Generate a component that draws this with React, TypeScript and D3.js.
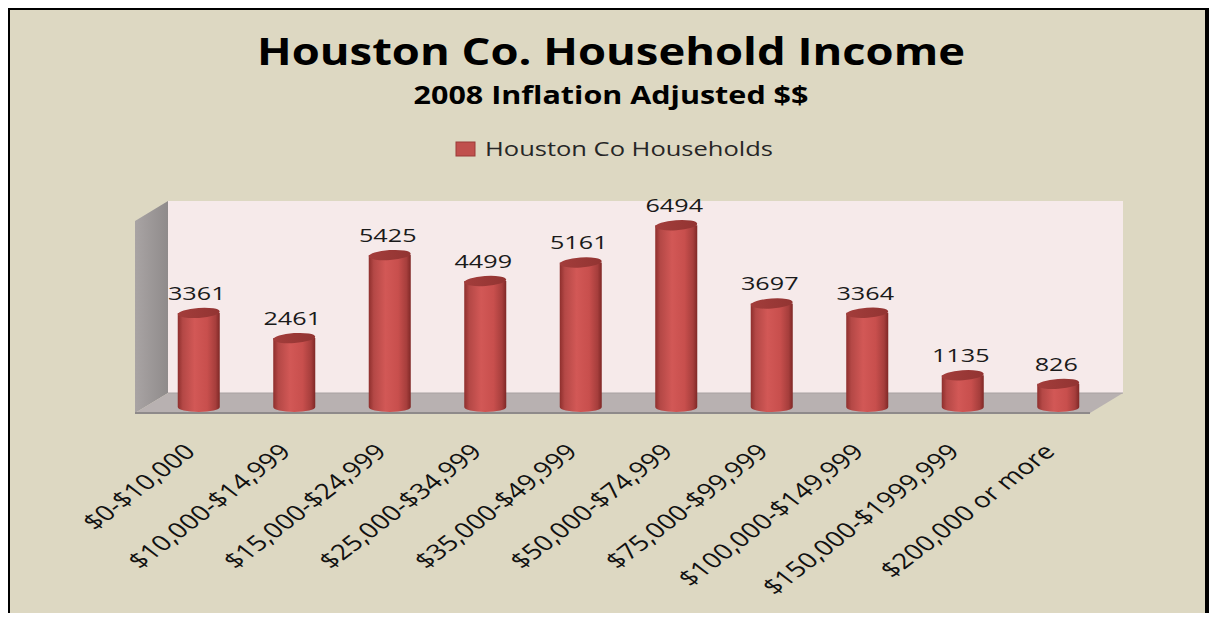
import React from "react";
import * as d3 from "d3";

const categories = [
  "$0-$10,000",
  "$10,000-$14,999",
  "$15,000-$24,999",
  "$25,000-$34,999",
  "$35,000-$49,999",
  "$50,000-$74,999",
  "$75,000-$99,999",
  "$100,000-$149,999",
  "$150,000-$1999,999",
  "$200,000 or more",
];
const households = [3361, 2461, 5425, 4499, 5161, 6494, 3697, 3364, 1135, 826];
const seriesName = "Houston Co Households";
const title = "Houston Co. Household Income";
const subtitle = "2008 Inflation Adjusted $$";

const W = 1217;
const H = 621;
const FONT = "'Open Sans', 'Noto Sans', sans-serif";
const STRETCH = 1.3;

export default function App() {
  const x = d3.scaleBand<string>().domain(categories).range([151, 1106]).paddingInner(0.56).paddingOuter(0.28);
  const y = d3.scaleLinear().domain([0, 7000]).range([407, 211]);
  const bw = x.bandwidth();
  const rx = bw / 2;
  const ry = 5;

  const wallLeft = 168, wallRight = 1123, wallTop = 201, floorBack = 393;
  const dx = -33, dy = 20;

  return (
    <div style={{ margin: -8 }}>
      <svg width={W} height={H} style={{ display: "block" }}>
        <defs>
          <linearGradient id="barGrad" x1="0" x2="1" y1="0" y2="0">
            <stop offset="0" stopColor="#8e2f2d" />
            <stop offset="0.12" stopColor="#b44846" />
            <stop offset="0.4" stopColor="#d25856" />
            <stop offset="0.7" stopColor="#c84f4d" />
            <stop offset="0.9" stopColor="#a63e3c" />
            <stop offset="1" stopColor="#7f2826" />
          </linearGradient>
          <linearGradient id="topGrad" x1="0" x2="1" y1="0" y2="0">
            <stop offset="0" stopColor="#a33d3b" />
            <stop offset="1" stopColor="#923432" />
          </linearGradient>
          <linearGradient id="sideGrad" x1="0" x2="1" y1="0" y2="0">
            <stop offset="0" stopColor="#a9a4a4" />
            <stop offset="1" stopColor="#8f8b8b" />
          </linearGradient>
        </defs>
        <rect x={0} y={0} width={W} height={H} fill="#ffffff" />
        <rect x={7} y={7} width={1201} height={H} fill="#ddd8c2" stroke="#000" strokeWidth={6} />

        <text x={611} y={65} textAnchor="middle" fontFamily={FONT} fontWeight={700} fontSize={37} fill="#000" textLength={708} lengthAdjust="spacingAndGlyphs">{title}</text>
        <text x={611} y={104} textAnchor="middle" fontFamily={FONT} fontWeight={700} fontSize={25} fill="#000" textLength={395} lengthAdjust="spacingAndGlyphs">{subtitle}</text>

        <rect x={456} y={142} width={19} height={14} fill="#c0504d" stroke="#9b3a38" strokeWidth={1} />
        <text x={485} y={156} fontFamily={FONT} fontSize={19.5} fill="#262626" textLength={288} lengthAdjust="spacingAndGlyphs">{seriesName}</text>

        <rect x={wallLeft} y={wallTop} width={wallRight - wallLeft} height={floorBack - wallTop} fill="#f6eaea" />
        <path d={`M${wallLeft},${wallTop} L${wallLeft + dx},${wallTop + dy} L${wallLeft + dx},${floorBack + dy} L${wallLeft},${floorBack} Z`} fill="url(#sideGrad)" />
        <path d={`M${wallLeft},${floorBack} L${wallRight},${floorBack} L${wallRight + dx},${floorBack + dy} L${wallLeft + dx},${floorBack + dy} Z`} fill="#b8b1b1" />
        <line x1={wallLeft + dx} x2={wallRight + dx} y1={floorBack + dy} y2={floorBack + dy} stroke="#8e8a8a" strokeWidth={2} />
        <line x1={wallLeft} x2={wallRight} y1={floorBack} y2={floorBack} stroke="#a8a2a2" strokeWidth={1} />

        {categories.map((c, i) => {
          const cx = (x(c) as number) + bw / 2;
          const top = y(households[i]);
          const base = y(0);
          const left = cx - rx;
          const right = cx + rx;
          const body = `M${left},${top} L${left},${base} A${rx},${ry} 0 0 0 ${right},${base} L${right},${top} Z`;
          return (
            <g key={c}>
              <path d={body} fill="url(#barGrad)" />
              <ellipse cx={cx} cy={top} rx={rx} ry={ry} fill="url(#topGrad)" transform={`rotate(-4 ${cx} ${top})`} />
              <text transform={`translate(${cx - 2},${top - 13}) scale(1.4,1)`} textAnchor="middle" fontFamily={FONT} fontSize={18} fill="#1a1a1a">{households[i]}</text>
            </g>
          );
        })}

        {categories.map((c) => {
          const cx = (x(c) as number) + bw / 2;
          return (
            <text key={c} transform={`translate(${cx - 2},453) scale(${STRETCH},1) rotate(-45)`} textAnchor="end" fontFamily={FONT} fontSize={21.5} fill="#111">{c}</text>
          );
        })}
      </svg>
    </div>
  );
}
